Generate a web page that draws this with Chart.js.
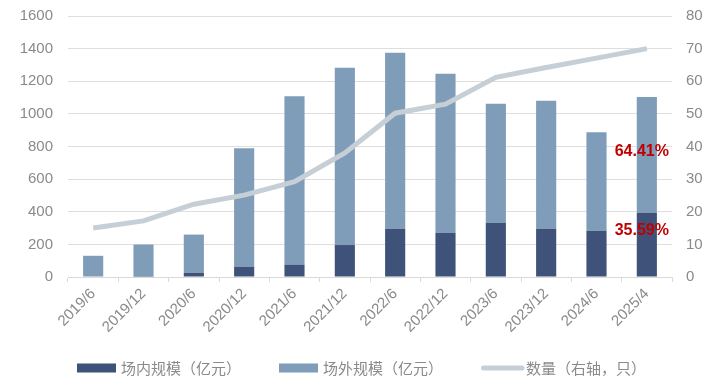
<!DOCTYPE html>
<html>
<head>
<meta charset="utf-8">
<script src="https://cdn.jsdelivr.net/npm/chart.js@4/dist/chart.umd.min.js"></script>
<style>
  html, body { margin: 0; padding: 0; background: #fff; }
  #wrap { width: 723px; height: 386px; }
</style>
</head>
<body>
<div id="wrap"><canvas id="scaleChart"></canvas></div>
<script>
// categories and series
const periods = ["2019/6", "2019/12", "2020/6", "2020/12", "2021/6", "2021/12",
  "2022/6", "2022/12", "2023/6", "2023/12", "2024/6", "2025/4"];
const insideScale = [0, 2, 26, 63, 74, 196, 296, 272, 333, 296, 284, 393];
const outsideScale = [130, 197, 234, 726, 1034, 1087, 1079, 974, 729, 785, 603, 710];
const fundCount = [15, 17.2, 22.3, 25.1, 29.2, 38, 50.2, 53, 61.2, 64.2, 67.1, 70];
const leftTicks = [0, 200, 400, 600, 800, 1000, 1200, 1400, 1600];
const rightTicks = [0, 10, 20, 30, 40, 50, 60, 70, 80];
// share labels on the last bar (text + left-axis height)
const shareText = ["64.41%", "35.59%"];
const shareAt = [768, 282];

const gray = "#8a8a8a";
const tickFont = { family: "'Liberation Sans', Arial, sans-serif", size: 15 };

// red percentage labels on the last bar
const shareLabels = {
  id: "shareLabels",
  afterDatasetsDraw(chart) {
    const ctx = chart.ctx;
    const x = chart.scales.x.getPixelForValue(periods.length - 1) - 5;
    ctx.save();
    ctx.font = "bold 16px 'Liberation Sans', Arial, sans-serif";
    ctx.fillStyle = "#c00000";
    ctx.textAlign = "center";
    ctx.textBaseline = "middle";
    shareText.forEach(function (t, i) {
      ctx.fillText(t, x, chart.scales.y.getPixelForValue(shareAt[i]));
    });
    ctx.restore();
  },
};

// legend row under the axis, spaced like the original
const legendRow = {
  id: "legendRow",
  afterDraw(chart) {
    const ctx = chart.ctx;
    const y = 368;
    const space = 38;
    ctx.save();
    ctx.font = "15px 'Noto Sans CJK SC', sans-serif";
    ctx.textBaseline = "middle";
    const items = chart.data.datasets.map(function (ds) {
      const key = ds.type === "line" ? 45 : 44;
      return { ds: ds, key: key, w: key + ctx.measureText(ds.label).width };
    });
    const total = items.reduce((s, it) => s + it.w, 0) + space * (items.length - 1);
    let x = (chart.width - total) / 2;
    items.forEach(function (it) {
      const ds = it.ds;
      if (ds.type === "line") {
        ctx.strokeStyle = ds.borderColor;
        ctx.lineWidth = 5;
        ctx.lineCap = "round";
        ctx.beginPath();
        ctx.moveTo(x + 2.5, y);
        ctx.lineTo(x + 41, y);
        ctx.stroke();
      } else {
        ctx.fillStyle = ds.backgroundColor;
        ctx.fillRect(x, y - 4.5, 39, 9);
      }
      ctx.fillStyle = gray;
      ctx.fillText(ds.label, x + it.key, y);
      x += it.w + space;
    });
    ctx.restore();
  },
};

new Chart(document.getElementById("scaleChart"), {
  type: "bar",
  data: {
    labels: periods,
    datasets: [
      {
        label: "场内规模（亿元）",
        data: insideScale,
        backgroundColor: "#3f5279",
        stack: "s",
        order: 1,
        yAxisID: "y",
      },
      {
        label: "场外规模（亿元）",
        data: outsideScale,
        backgroundColor: "#7f9cb8",
        stack: "s",
        order: 1,
        yAxisID: "y",
      },
      {
        type: "line",
        label: "数量（右轴，只）",
        data: fundCount,
        borderColor: "#c6ced6",
        backgroundColor: "#c6ced6",
        borderWidth: 5,
        pointRadius: 0,
        tension: 0,
        order: 0,
        yAxisID: "y1",
      },
    ],
  },
  options: {
    responsive: true,
    maintainAspectRatio: false,
    animation: false,
    layout: { padding: { top: 16, left: 0, right: 0, bottom: 0 } },
    datasets: { bar: { categoryPercentage: 1, barPercentage: 0.4 } },
    scales: {
      x: {
        stacked: true,
        grid: { drawOnChartArea: false, drawTicks: true, tickLength: 5, color: "#d9d9d9" },
        border: { color: "#d9d9d9" },
        ticks: {
          color: gray,
          font: tickFont,
          minRotation: 45,
          maxRotation: 45,
          padding: 3,
        },
        afterFit: function (s) { s.height = 109; },
      },
      y: {
        stacked: true,
        min: 0,
        max: 1600,
        afterBuildTicks: function (s) { s.ticks = leftTicks.map(v => ({ value: v })); },
        grid: { color: "#dedede", lineWidth: 1, drawTicks: true, tickLength: 15, tickColor: "rgba(0,0,0,0)" },
        border: { display: false },
        ticks: {
          color: gray,
          padding: 0,
          font: tickFont,
          callback: function (v) { return String(v); },
        },
        afterFit: function (s) { s.width = 68; },
      },
      y1: {
        position: "right",
        min: 0,
        max: 80,
        afterBuildTicks: function (s) { s.ticks = rightTicks.map(v => ({ value: v })); },
        grid: { display: true, drawOnChartArea: false, drawTicks: true, tickLength: 14, tickColor: "rgba(0,0,0,0)" },
        border: { display: false },
        ticks: {
          color: gray,
          padding: 0,
          font: tickFont,
          callback: function (v) { return String(v); },
        },
        afterFit: function (s) { s.width = 51; },
      },
    },
    plugins: {
      tooltip: { enabled: false },
      legend: { display: false },
    },
  },
  plugins: [shareLabels, legendRow],
});
</script>
</body>
</html>
